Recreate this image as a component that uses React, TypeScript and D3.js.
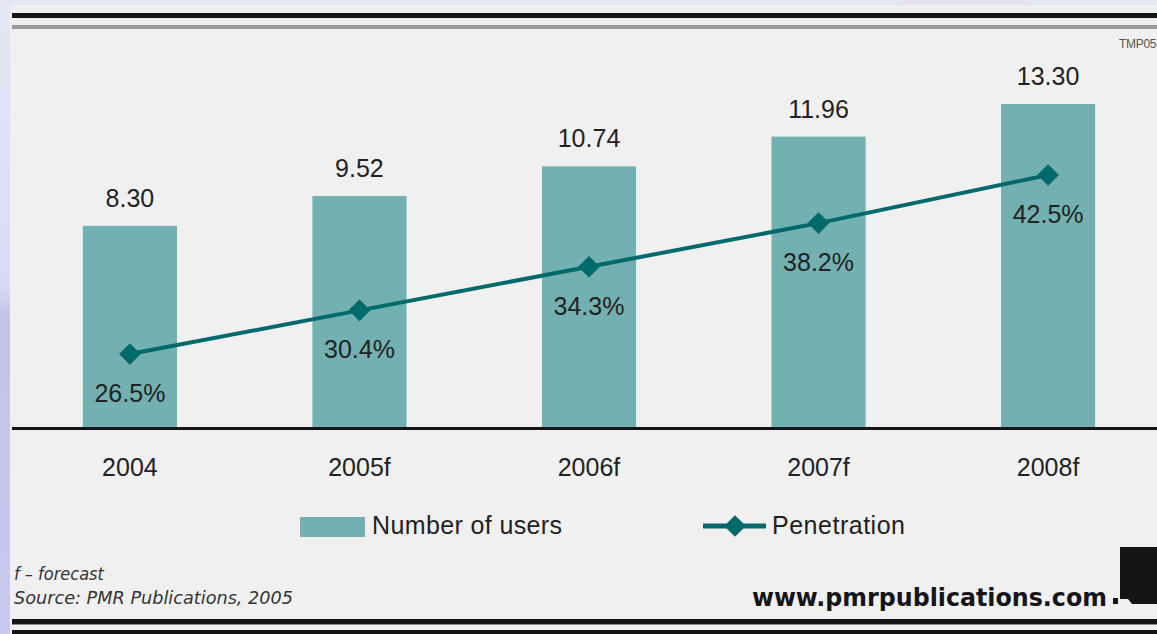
import { useMemo } from "react";
import * as d3 from "d3";

const years = ["2004", "2005f", "2006f", "2007f", "2008f"];
const users = [8.3, 9.52, 10.74, 11.96, 13.3];
const penetration = [26.5, 30.4, 34.3, 38.2, 42.5];

const W = 1157;
const H = 634;
const barColor = "#72b0b1";
const lineColor = "#00696c";
const font = "'Liberation Sans', Arial, sans-serif";

export default function App() {
  const x = useMemo(
    () => d3.scaleBand<string>().domain(years).range([14, 1164]).paddingInner(0.59).paddingOuter(0.3),
    []
  );
  const y = d3.scaleLinear().domain([0, 13.3]).range([428, 104]);
  const y2 = d3.scaleLinear().domain([26.5, 42.5]).range([354, 175]);

  const cx = (d: string) => (x(d) as number) + x.bandwidth() / 2;

  const line = d3
    .line<number>()
    .x((_, i) => cx(years[i]))
    .y((d) => y2(d));

  const diamond = d3.symbol().type(d3.symbolDiamond2).size(300)();

  return (
    <svg
      width={W}
      height={H}
      style={{ position: "absolute", left: 0, top: 0 }}
    >
      <defs>
        <linearGradient id="side" x1="0" y1="0" x2="0" y2="1">
          <stop offset="0" stopColor="#e3e8f6" />
          <stop offset="0.45" stopColor="#d6dcf4" />
          <stop offset="0.5" stopColor="#c0c4e6" />
          <stop offset="1" stopColor="#c6caf2" />
        </linearGradient>
      </defs>
      <rect x={0} y={0} width={W} height={H} fill="#e3e8f6" />
      <rect x={900} y={0} width={130} height={5} fill="#e9e2f2" />
      <rect x={0} y={0} width={10} height={H} fill="url(#side)" />
      <rect x={10} y={5} width={W - 10} height={H - 5} fill="#f0f0f0" />

      {/* top rules */}
      <rect x={12} y={13} width={W - 12} height={5} fill="#151518" />
      <rect x={12} y={25} width={W - 12} height={4} fill="#9a9a9a" />

      <text x={1119} y={48} fontSize={12} fill="#555" fontFamily={font} style={{ letterSpacing: "-0.3px" }}>
        TMP05
      </text>

      {/* bars */}
      {users.map((v, i) => (
        <g key={years[i]}>
          <rect
            x={x(years[i])}
            y={y(v)}
            width={x.bandwidth()}
            height={y(0) - y(v)}
            fill={barColor}
          />
          <text
            x={cx(years[i])}
            y={y(v) - 19}
            textAnchor="middle"
            fontSize={25}
            fill="#222"
            fontFamily={font}
          >
            {v.toFixed(2)}
          </text>
          <text
            x={cx(years[i])}
            y={476}
            textAnchor="middle"
            fontSize={25}
            fill="#222"
            fontFamily={font}
          >
            {years[i]}
          </text>
        </g>
      ))}

      {/* baseline */}
      <rect x={12} y={427} width={W - 12} height={3} fill="#151518" />

      {/* penetration line */}
      <path d={line(penetration) || ""} fill="none" stroke={lineColor} strokeWidth={4} />
      {penetration.map((p, i) => (
        <g key={"p" + i}>
          <path d={diamond || ""} transform={`translate(${cx(years[i])},${y2(p)})`} fill={lineColor} />
          <text
            x={cx(years[i])}
            y={y2(p) + 48}
            textAnchor="middle"
            fontSize={25}
            fill="#222"
            fontFamily={font}
          >
            {p.toFixed(1)}%
          </text>
        </g>
      ))}

      {/* legend */}
      <rect x={300} y={517} width={65} height={20} fill={barColor} />
      <text x={372} y={534} fontSize={25} fill="#222" fontFamily={font} textLength={190}>
        Number of users
      </text>
      <line x1={703} x2={766} y1={526} y2={526} stroke={lineColor} strokeWidth={5} />
      <path d={diamond || ""} transform="translate(735,526)" fill={lineColor} />
      <text x={772} y={534} fontSize={25} fill="#222" fontFamily={font} textLength={133}>
        Penetration
      </text>

      {/* footer */}
      <text x={14} y={580} fontSize={18} fontStyle="italic" fill="#333" fontFamily="'DejaVu Sans Condensed', 'DejaVu Sans', sans-serif">
        f – forecast
      </text>
      <text
        x={14}
        y={604}
        fontSize={18}
        fontStyle="italic"
        fill="#333"
        fontFamily="'DejaVu Sans Condensed', 'DejaVu Sans', sans-serif"
        textLength={279}
        lengthAdjust="spacingAndGlyphs"
      >
        Source: PMR Publications, 2005
      </text>
      <text
        x={752}
        y={606}
        fontSize={24}
        fontWeight={900}
        fill="#151518"
        fontFamily="'DejaVu Sans', Verdana, sans-serif"
        textLength={355}
        lengthAdjust="spacingAndGlyphs"
      >
        www.pmrpublications.com
      </text>
      <path d="M1120,547 H1157 V604 H1132 L1128,599 H1120 Z" fill="#151518" />
      <rect x={1113} y={598} width={5} height={6} fill="#151518" />

      {/* bottom rules */}
      <rect x={12} y={619} width={W - 12} height={5} fill="#151518" />
      <rect x={12} y={624} width={W - 12} height={1} fill="#888" />
      <rect x={12} y={630} width={W - 12} height={4} fill="#151518" />
    </svg>
  );
}
